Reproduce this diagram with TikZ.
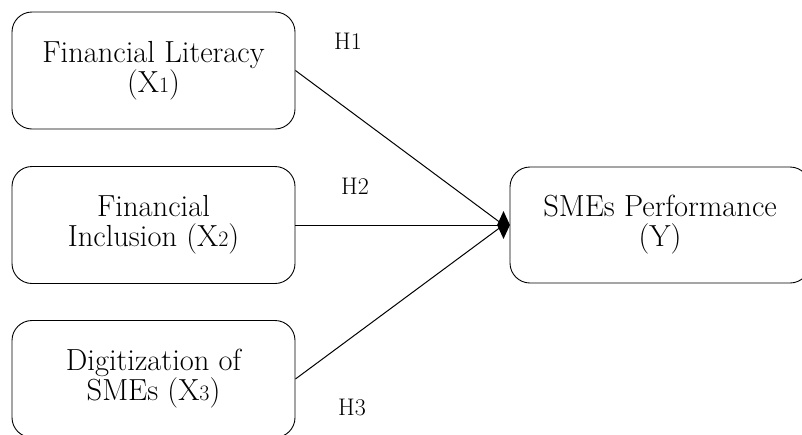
\documentclass[tikz,border=0pt]{standalone}
\usetikzlibrary{shapes.geometric}
\begin{document}
\begin{tikzpicture}[x=1pt,y=-1pt,
  box/.style={draw, line width=0.9pt, rounded corners=20pt, minimum width=283pt, minimum height=117pt, align=center, font=\fontsize{30.5}{30}\selectfont, inner sep=0pt},
  sub/.style={},
  lbl/.style={font=\fontsize{24}{26}\selectfont, inner sep=0pt},
  link/.style={line width=1pt}]
\useasboundingbox (0,0) rectangle (802,434);
\begin{scope}
\clip (0,0) rectangle (802,434);
\node[box] (x1) at (153.5,70.5) {Financial Literacy\\(X{\fontsize{22}{20}\selectfont 1})};
\node[box] (x2) at (153.5,225) {Financial\\Inclusion (X{\fontsize{22}{20}\selectfont 2})};
\node[box] (x3) at (153.5,379) {Digitization of\\SMEs (X{\fontsize{22}{20}\selectfont 3})};
\node[box, minimum width=300pt, minimum height=116pt] (y) at (660,225) {SMEs Performance\\(Y)};
\end{scope}
\node[diamond, fill=black, inner sep=0pt, minimum width=13pt, minimum height=28pt] (hub) at (503.5,225) {};
\draw[link] (x1.east) -- (hub.center);
\draw[link] (x2.east) -- (hub.center);
\draw[link] (x3.east) -- (hub.center);
\node[lbl] (h1) at (348,41) {H1};
\node[lbl] (h2) at (355,186) {H2};
\node[lbl] (h3) at (352,407) {H3};
\end{tikzpicture}
\end{document}
